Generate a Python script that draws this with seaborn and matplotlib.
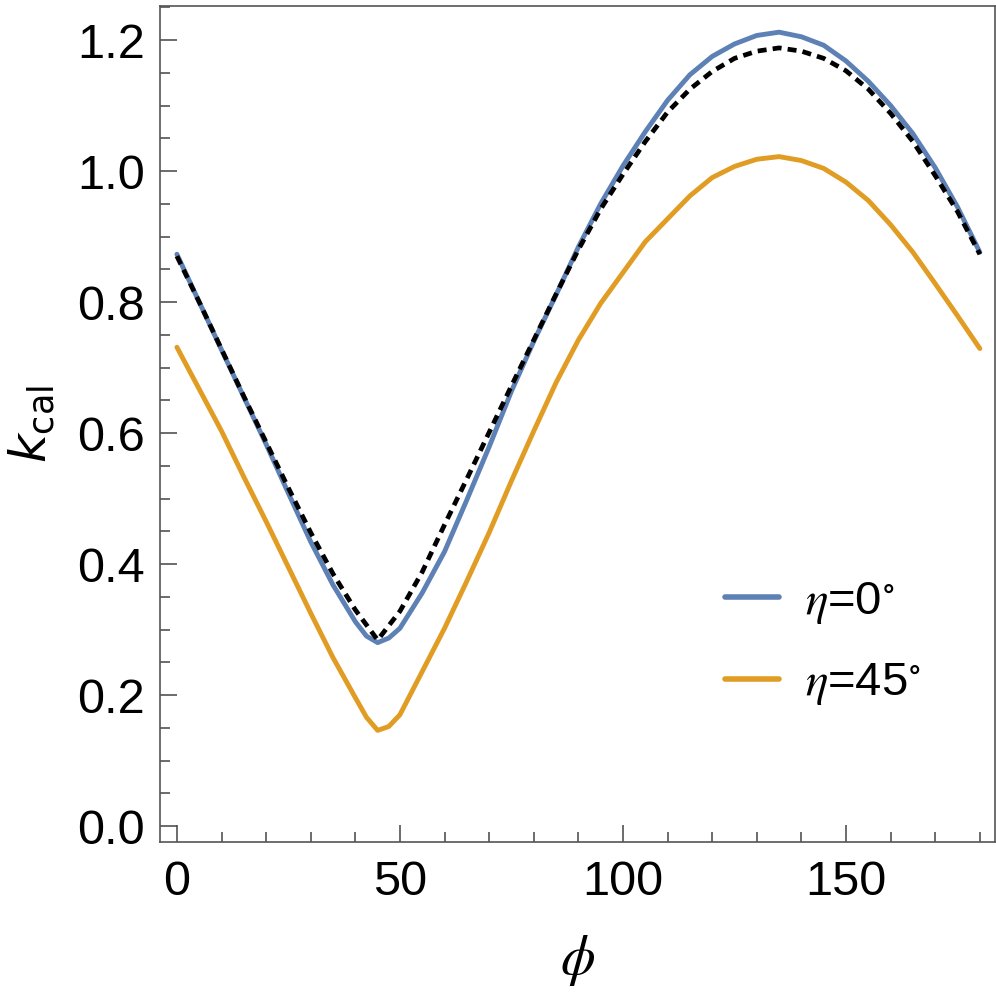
import matplotlib
matplotlib.use("Agg")
import matplotlib.pyplot as plt
from matplotlib.ticker import MultipleLocator, FormatStrFormatter
import seaborn as sns

# angle grids (degrees)
phi = [0, 5, 10, 15, 20, 25, 30, 35, 40, 45, 50, 55, 60, 65, 70, 75, 80, 85, 90,
       95, 100, 105, 110, 115, 120, 125, 130, 135, 140, 145, 150, 155, 160, 165,
       170, 175, 180]
phi_eta = [0, 5, 10, 15, 20, 25, 30, 35, 40, 42.5, 45, 47.5, 50, 55, 60, 65, 70,
           75, 80, 85, 90, 95, 100, 105, 110, 115, 120, 125, 130, 135, 140, 145,
           150, 155, 160, 165, 170, 175, 180]

# eta = 0 deg
k_eta0 = [0.873, 0.800, 0.727, 0.655, 0.583, 0.508, 0.434, 0.368, 0.312, 0.290,
          0.280, 0.287, 0.302, 0.356, 0.419, 0.498, 0.579, 0.664, 0.740, 0.811,
          0.884, 0.950, 1.008, 1.060, 1.108, 1.147, 1.175, 1.194, 1.207, 1.212,
          1.205, 1.192, 1.168, 1.137, 1.100, 1.057, 1.005, 0.945, 0.876]
# eta = 45 deg
k_eta45 = [0.731, 0.667, 0.603, 0.533, 0.465, 0.395, 0.325, 0.257, 0.196, 0.166,
           0.146, 0.152, 0.170, 0.236, 0.302, 0.374, 0.448, 0.527, 0.603, 0.677,
           0.742, 0.798, 0.845, 0.892, 0.927, 0.962, 0.990, 1.007, 1.018, 1.022,
           1.016, 1.004, 0.983, 0.955, 0.918, 0.876, 0.828, 0.779, 0.729]
# dashed reference curve
k_ref = [0.870, 0.800, 0.728, 0.656, 0.586, 0.516, 0.448, 0.385, 0.330, 0.284,
         0.328, 0.388, 0.460, 0.530, 0.601, 0.672, 0.742, 0.812, 0.880, 0.942,
         0.995, 1.045, 1.090, 1.125, 1.152, 1.172, 1.183, 1.188, 1.183, 1.172,
         1.153, 1.125, 1.088, 1.045, 0.993, 0.938, 0.873]

labels = [r"$\eta$=0$^{\circ}$", r"$\eta$=45$^{\circ}$"]
colors = ["#5E81B5", "#E19C24"]

sns.set_style("ticks")
plt.rcParams["font.family"] = ["Liberation Sans", "DejaVu Sans"]
plt.rcParams["text.color"] = "black"
plt.rcParams["axes.labelcolor"] = "black"
plt.rcParams["xtick.color"] = "black"
plt.rcParams["ytick.color"] = "black"

fig = plt.figure(figsize=(9.96, 9.96), dpi=100)
ax = fig.add_axes([0.1606, 0.1546, 0.8384, 0.8394])

sns.lineplot(x=phi_eta, y=k_eta0, color=colors[0], lw=3.5, label=labels[0], ax=ax)
sns.lineplot(x=phi_eta, y=k_eta45, color=colors[1], lw=3.5, label=labels[1], ax=ax)
sns.lineplot(x=phi, y=k_ref, color="black", lw=3.4, linestyle=(0, (1.9, 1.3)), ax=ax)

ax.set_xlim(-3.8, 183.4)
ax.set_ylim(-0.0244, 1.252)
ax.xaxis.set_major_locator(MultipleLocator(50))
ax.xaxis.set_minor_locator(MultipleLocator(10))
ax.yaxis.set_major_locator(MultipleLocator(0.2))
ax.yaxis.set_minor_locator(MultipleLocator(0.05))
ax.yaxis.set_major_formatter(FormatStrFormatter("%.1f"))

ax.tick_params(which="both", direction="in", top=False, right=False, width=1.1)
ax.tick_params(which="both", color="#444444")
ax.tick_params(which="major", length=12, labelsize=35)
ax.tick_params(which="minor", length=7)
ax.tick_params(axis="y", which="major", pad=11)
ax.tick_params(axis="x", which="major", pad=13)
for s in ax.spines.values():
    s.set_color("#555555")
    s.set_linewidth(1.2)

ax.set_xlabel(r"$\phi$", fontsize=40, math_fontfamily="stix", labelpad=20)
ax.set_ylabel(r"$k_{\mathrm{cal}}$", fontsize=36, math_fontfamily="dejavusans",
              labelpad=14)

leg = ax.legend(loc="center left", bbox_to_anchor=(0.654, 0.2374), frameon=False,
                prop={"size": 34, "math_fontfamily": "stix"},
                handlelength=1.15, handletextpad=0.55, labelspacing=0.75,
                borderaxespad=0)
for line in leg.get_lines():
    line.set_linewidth(4)

fig.savefig("out.png", dpi=100)
